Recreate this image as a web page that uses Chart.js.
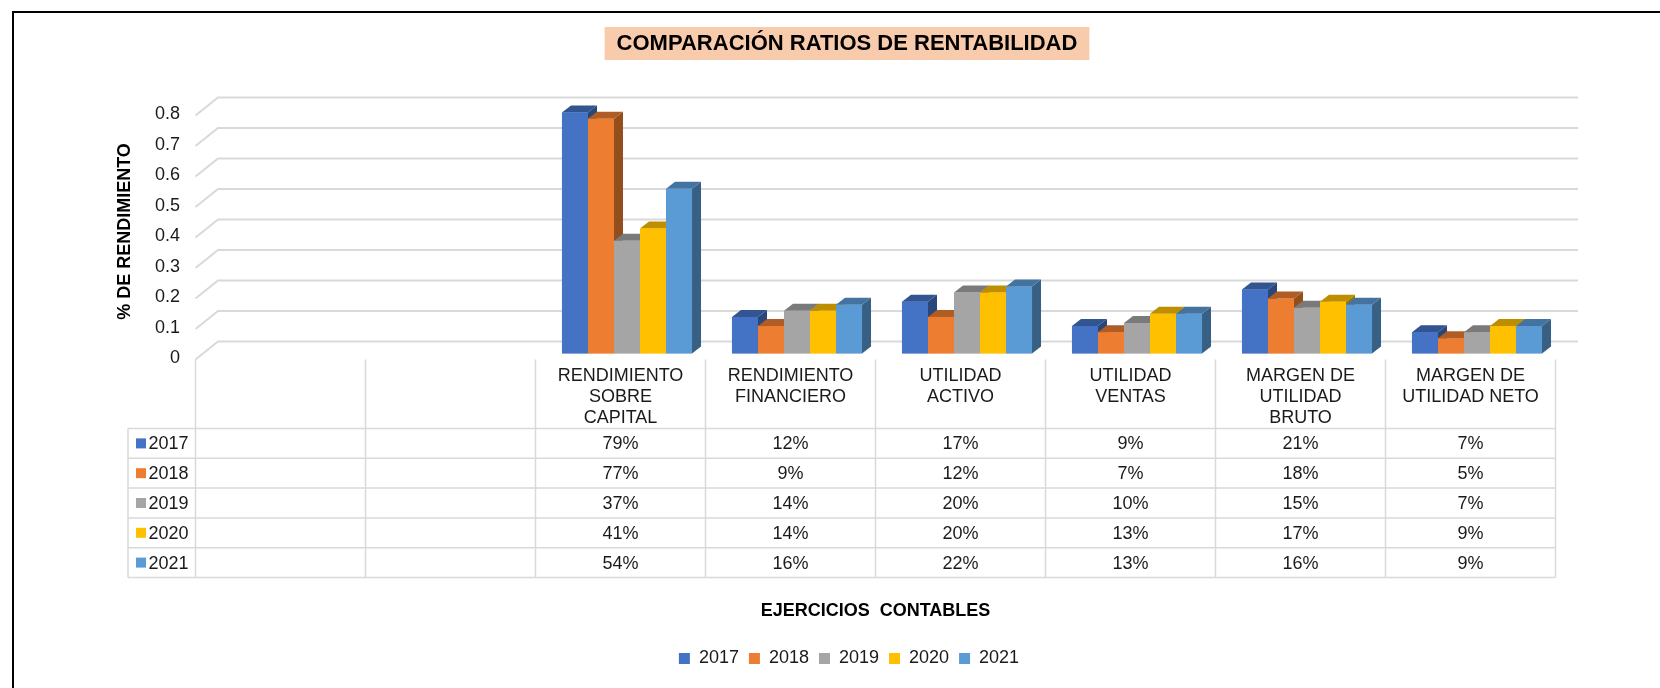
<!DOCTYPE html>
<html>
<head>
<meta charset="utf-8">
<script src="https://cdn.jsdelivr.net/npm/chart.js@4.4.1/dist/chart.umd.min.js"></script>
<style>
  html, body { margin: 0; padding: 0; background: #fff; overflow: hidden; }
</style>
</head>
<body>
<canvas id="ratios" width="1660" height="688"></canvas>
<script>
const chartTitle = 'COMPARACIÓN RATIOS DE RENTABILIDAD';
const categories = [
  [''], [''],
  ['RENDIMIENTO', 'SOBRE', 'CAPITAL'],
  ['RENDIMIENTO', 'FINANCIERO'],
  ['UTILIDAD', 'ACTIVO'],
  ['UTILIDAD', 'VENTAS'],
  ['MARGEN DE', 'UTILIDAD', 'BRUTO'],
  ['MARGEN DE', 'UTILIDAD NETO']
];
const years = ['2017', '2018', '2019', '2020', '2021'];
const r2017 = [null, null, 0.79, 0.12, 0.17, 0.09, 0.21, 0.07];
const r2018 = [null, null, 0.77, 0.09, 0.12, 0.07, 0.18, 0.05];
const r2019 = [null, null, 0.37, 0.14, 0.20, 0.10, 0.15, 0.07];
const r2020 = [null, null, 0.41, 0.14, 0.20, 0.13, 0.17, 0.09];
const r2021 = [null, null, 0.54, 0.16, 0.22, 0.13, 0.16, 0.09];
const series = [r2017, r2018, r2019, r2020, r2021];
const colors = ['#4472C4', '#ED7D31', '#A5A5A5', '#FFC000', '#5B9BD5'];

const FONT = '"Liberation Sans", Arial, sans-serif';
const TXT = '#1a1a1a';
Chart.defaults.font.family = FONT;

function shade(hex, f) {
  const n = parseInt(hex.slice(1), 16);
  const r = Math.round((n >> 16) * f);
  const g = Math.round(((n >> 8) & 255) * f);
  const b = Math.round((n & 255) * f);
  return `rgb(${r},${g},${b})`;
}

// column geometry of the data table, taken from the category scale
function columns(chart) {
  const x = chart.scales.x;
  const cw = x.getPixelForValue(1) - x.getPixelForValue(0);
  const left = x.getPixelForValue(0) - cw / 2 - 6.5;
  return { cw, left, right: left + cw * categories.length };
}

function poly(ctx, pts) {
  ctx.beginPath();
  ctx.moveTo(pts[0][0], pts[0][1]);
  for (let i = 1; i < pts.length; i++) ctx.lineTo(pts[i][0], pts[i][1]);
  ctx.closePath();
  ctx.fill();
}

const DX = 9, DY = 7;

const deco = {
  id: 'deco',
  beforeDraw(chart) {
    const ctx = chart.ctx;
    ctx.save();
    ctx.fillStyle = '#fff';
    ctx.fillRect(0, 0, chart.width, chart.height);
    ctx.fillStyle = '#000';
    ctx.fillRect(12, 11, 2, chart.height);
    ctx.fillRect(12, 11, chart.width, 2);

    ctx.font = 'bold 22px ' + FONT;
    const w = ctx.measureText(chartTitle).width;
    ctx.fillStyle = '#F8CBAD';
    ctx.fillRect(847 - w / 2 - 12, 27, w + 24, 33);
    ctx.fillStyle = '#000';
    ctx.textAlign = 'center';
    ctx.textBaseline = 'middle';
    ctx.fillText(chartTitle, 847, 44);
    ctx.restore();
  },
  beforeDatasetsDraw(chart) {
    const { ctx, scales: { y } } = chart;
    const { left, right } = columns(chart);
    ctx.save();
    ctx.strokeStyle = '#D9D9D9';
    ctx.lineWidth = 2;
    y.ticks.forEach(t => {
      const py = y.getPixelForValue(t.value);
      ctx.beginPath();
      ctx.moveTo(left, py + 6);
      ctx.lineTo(left + 22.5, py - 12);
      ctx.lineTo(right + 22.5, py - 12);
      ctx.stroke();
    });
    ctx.restore();
  },
  afterDatasetsDraw(chart) {
    const ctx = chart.ctx;
    ctx.save();
    for (let i = 0; i < categories.length; i++) {
      chart.data.datasets.forEach((ds, d) => {
        if (ds.data[i] == null) return;
        const bar = chart.getDatasetMeta(d).data[i];
        const { x, y, base, width } = bar.getProps(['x', 'y', 'base', 'width'], true);
        const l = x - width / 2, r = x + width / 2;
        ctx.fillStyle = shade(colors[d], 0.62);
        poly(ctx, [[r, y], [r + DX, y - DY], [r + DX, base - DY], [r, base]]);
        ctx.fillStyle = shade(colors[d], 0.74);
        poly(ctx, [[l, y], [l + DX, y - DY], [r + DX, y - DY], [r, y]]);
        ctx.fillStyle = colors[d];
        ctx.fillRect(l, y, width, base - y);
      });
    }
    ctx.restore();
  },
  afterDraw(chart) {
    const { ctx, scales: { y } } = chart;
    const { cw, left, right } = columns(chart);
    const top = y.getPixelForValue(0) + 6;
    const headH = 69, rowH = 29.8, keyL = 128;
    const bottom = top + headH + rowH * years.length;

    ctx.save();
    ctx.strokeStyle = '#D9D9D9';
    ctx.lineWidth = 1.5;
    ctx.beginPath();
    for (let k = 0; k <= categories.length; k++) {
      ctx.moveTo(left + k * cw, top);
      ctx.lineTo(left + k * cw, bottom);
    }
    ctx.moveTo(keyL, top + headH);
    ctx.lineTo(keyL, bottom);
    for (let r = 0; r <= years.length; r++) {
      ctx.moveTo(keyL, top + headH + r * rowH);
      ctx.lineTo(right, top + headH + r * rowH);
    }
    ctx.stroke();

    ctx.fillStyle = TXT;
    ctx.font = '18px ' + FONT;
    ctx.textBaseline = 'middle';
    ctx.textAlign = 'center';
    categories.forEach((lines, i) => {
      const cx = left + cw * (i + 0.5);
      lines.forEach((s, j) => ctx.fillText(s, cx, top + 17 + j * 21));
      series.forEach((vals, r) => {
        if (vals[i] == null) return;
        ctx.fillText(Math.round(vals[i] * 100) + '%', cx, top + headH + rowH * (r + 0.5) + 1);
      });
    });
    ctx.textAlign = 'left';
    years.forEach((yr, r) => {
      const cy = top + headH + rowH * (r + 0.5);
      ctx.fillStyle = colors[r];
      ctx.fillRect(keyL + 8, cy - 5, 10, 10);
      ctx.fillStyle = TXT;
      ctx.fillText(yr, keyL + 20.5, cy + 1);
    });

    ctx.fillStyle = '#000';
    ctx.textAlign = 'center';
    ctx.font = 'bold 18px ' + FONT;
    ctx.fillText('EJERCICIOS  CONTABLES', (left + right) / 2, 611);
    ctx.restore();
  }
};

new Chart(document.getElementById('ratios'), {
  type: 'bar',
  data: {
    labels: categories,
    datasets: years.map((yr, d) => ({
      label: yr,
      data: series[d],
      backgroundColor: colors[d],
      borderWidth: 0,
      barPercentage: 1,
      categoryPercentage: 0.765
    }))
  },
  options: {
    responsive: false,
    animation: false,
    devicePixelRatio: 1,
    layout: { padding: { top: 109.5, left: 136, right: 98, bottom: 10.5 } },
    plugins: {
      tooltip: { enabled: false },
      legend: {
        position: 'bottom',
        labels: {
          boxWidth: 11,
          boxHeight: 11,
          padding: 10,
          color: TXT,
          font: { size: 18 }
        }
      }
    },
    scales: {
      x: {
        grid: { display: false },
        border: { display: false },
        ticks: { display: false },
        afterFit: s => { s.height = 286; }
      },
      y: {
        min: 0,
        max: 0.8,
        grid: { display: false, drawTicks: false },
        border: { display: false },
        ticks: {
          stepSize: 0.1,
          padding: 22,
          labelOffset: 5,
          color: TXT,
          font: { size: 18 },
          callback: v => String(Math.round(v * 10) / 10)
        },
        title: {
          display: true,
          text: '% DE RENDIMIENTO',
          color: '#000',
          padding: { top: -22, bottom: 0 },
          font: { size: 18, weight: 'bold' }
        },
        afterFit: s => { s.width = 66; }
      }
    }
  },
  plugins: [deco]
});
</script>
</body>
</html>
